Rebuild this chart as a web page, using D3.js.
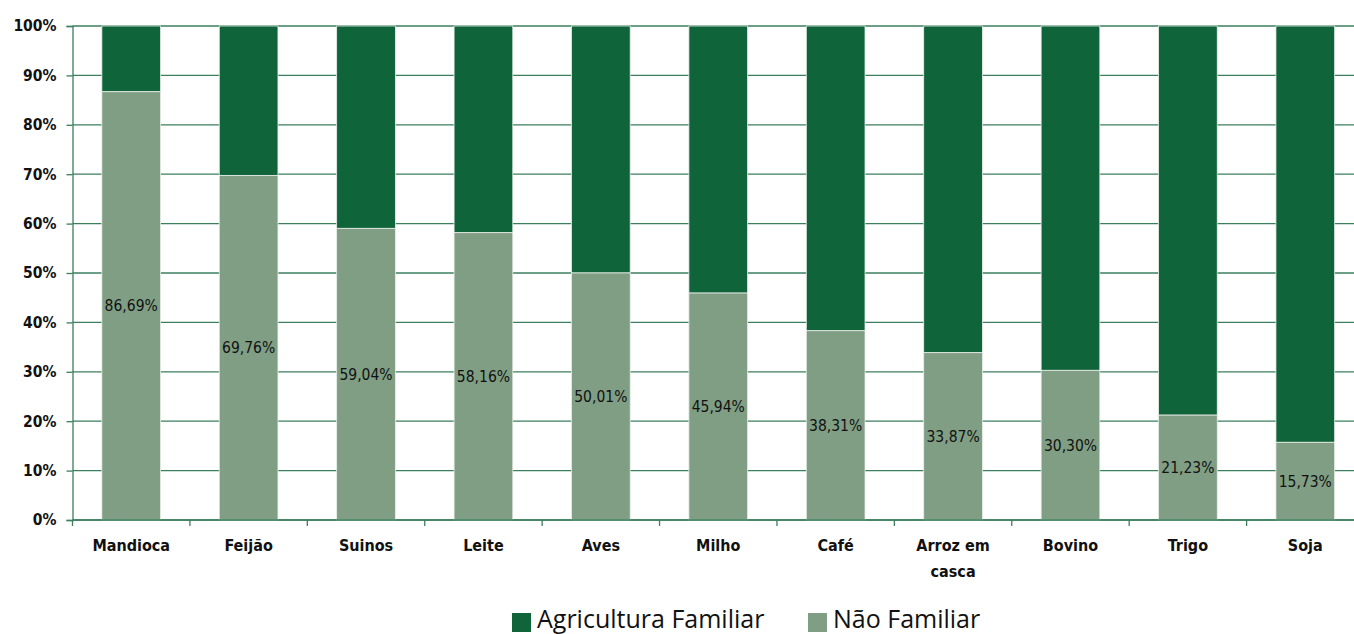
<!DOCTYPE html>
<html>
<head>
<meta charset="utf-8">
<script src="https://cdn.jsdelivr.net/npm/d3@7"></script>
<style>
  body { margin: 0; background: #fff; }
  svg { display: block; }
</style>
</head>
<body>
<div id="wrapper"></div>
<script>
const categories = ["Mandioca", "Feijão", "Suinos", "Leite", "Aves", "Milho", "Café", "Arroz em casca", "Bovino", "Trigo", "Soja"];
const naoFamiliar = [86.69, 69.76, 59.04, 58.16, 50.01, 45.94, 38.31, 33.87, 30.30, 21.23, 15.73];
const seriesNames = ["Agricultura Familiar", "Não Familiar"];
const yTicks = [0, 10, 20, 30, 40, 50, 60, 70, 80, 90, 100];

const colors = { dark: "#10643a", light: "#7f9e84", grid: "#3b7f5c" };

const dimension = {
    width: 1354,
    height: 634,
    margin: { top: 26, right: -10, bottom: 114, left: 72.5 }
};
dimension.boundedWidth = dimension.width - dimension.margin.left - dimension.margin.right;
dimension.boundedHeight = dimension.height - dimension.margin.top - dimension.margin.bottom;

const data = categories.map((c, i) => ({
    cat: c,
    nao: naoFamiliar[i],
    fam: 100 - naoFamiliar[i]
}));

const svg = d3.select("#wrapper").append("svg")
    .attr("width", dimension.width)
    .attr("height", dimension.height);

const bounds = svg.append("g")
    .attr("transform", `translate(${dimension.margin.left},${dimension.margin.top})`);

const x = d3.scaleBand()
    .domain(categories)
    .range([0, dimension.boundedWidth])
    .paddingInner(0.5)
    .paddingOuter(0.25);

const y = d3.scaleLinear()
    .domain([0, 100])
    .range([dimension.boundedHeight, 0]);

// gridlines
bounds.append("g")
    .selectAll("line")
    .data(yTicks)
    .enter()
    .append("line")
    .attr("x1", 0)
    .attr("x2", dimension.boundedWidth)
    .attr("y1", d => y(d))
    .attr("y2", d => y(d))
    .attr("stroke", colors.grid)
    .attr("stroke-width", 1.3);

// bars
const bars = bounds.append("g")
    .selectAll("g")
    .data(data)
    .enter()
    .append("g");

bars.append("rect")
    .attr("x", d => x(d.cat))
    .attr("width", x.bandwidth())
    .attr("y", d => y(100))
    .attr("height", d => y(d.nao) - y(100))
    .attr("fill", colors.dark)
    .attr("stroke", "#e8eee9")
    .attr("stroke-width", 0.8);

bars.append("rect")
    .attr("x", d => x(d.cat))
    .attr("width", x.bandwidth())
    .attr("y", d => y(d.nao))
    .attr("height", d => y(0) - y(d.nao))
    .attr("fill", colors.light)
    .attr("stroke", "#e8eee9")
    .attr("stroke-width", 0.8);

bars.append("text")
    .attr("x", d => x(d.cat) + x.bandwidth() / 2)
    .attr("y", d => y(d.nao / 2))
    .attr("dy", "0.35em")
    .attr("text-anchor", "middle")
    .style("font-family", "'DejaVu Sans Condensed', 'DejaVu Sans', sans-serif")
    .style("font-size", "15.5px")
    .style("fill", "#111")
    .text(d => d.nao.toFixed(2).replace(".", ",") + "%");

// y axis
const yAxis = bounds.append("g")
    .call(d3.axisLeft(y).tickValues(yTicks).tickSize(6).tickFormat(d => d + "%"));
yAxis.select(".domain").attr("stroke", colors.grid).attr("stroke-width", 1.3);
yAxis.selectAll(".tick line").attr("stroke", colors.grid).attr("stroke-width", 1.3);
yAxis.selectAll("text")
    .attr("x", -16)
    .style("font-family", "'DejaVu Sans Condensed', 'DejaVu Sans', sans-serif")
    .style("font-weight", "bold")
    .style("font-size", "15.5px")
    .style("fill", "#111");

// x axis
const xAxisG = bounds.append("g")
    .attr("transform", `translate(0,${dimension.boundedHeight})`);
xAxisG.append("line")
    .attr("x1", 0).attr("x2", dimension.boundedWidth)
    .attr("stroke", colors.grid).attr("stroke-width", 1.3);
xAxisG.selectAll(".sep")
    .data(d3.range(categories.length + 1))
    .enter()
    .append("line")
    .attr("class", "sep")
    .attr("x1", i => x.step() * i)
    .attr("x2", i => x.step() * i)
    .attr("y1", 0)
    .attr("y2", 6)
    .attr("stroke", colors.grid)
    .attr("stroke-width", 1.3);

const xLabels = xAxisG.selectAll(".xl")
    .data(categories)
    .enter()
    .append("text")
    .attr("class", "xl")
    .attr("text-anchor", "middle")
    .attr("y", 31)
    .style("font-family", "'DejaVu Sans Condensed', 'DejaVu Sans', sans-serif")
    .style("font-weight", "bold")
    .style("font-size", "16px")
    .style("fill", "#111");

xLabels.each(function (d) {
    const words = d === "Arroz em casca" ? ["Arroz em", "casca"] : [d];
    const t = d3.select(this);
    words.forEach((w, k) => {
        t.append("tspan")
            .attr("x", x(d) + x.bandwidth() / 2)
            .attr("dy", k === 0 ? 0 : 26)
            .text(w);
    });
});

// legend
const legend = svg.append("g")
    .attr("transform", "translate(512,612)");
const legendItems = [
    { name: seriesNames[0], color: colors.dark, x: 0 },
    { name: seriesNames[1], color: colors.light, x: 296 }
];
const li = legend.selectAll("g")
    .data(legendItems)
    .enter()
    .append("g")
    .attr("transform", d => `translate(${d.x},0)`);
li.append("rect")
    .attr("width", 19)
    .attr("height", 19)
    .attr("y", 1)
    .attr("fill", d => d.color);
li.append("text")
    .attr("x", 25)
    .attr("y", 16)
    .style("font-family", "'Open Sans', 'Noto Sans', sans-serif")
    .style("font-size", "25px")
    .style("fill", "#111")
    .text(d => d.name);
</script>
</body>
</html>
